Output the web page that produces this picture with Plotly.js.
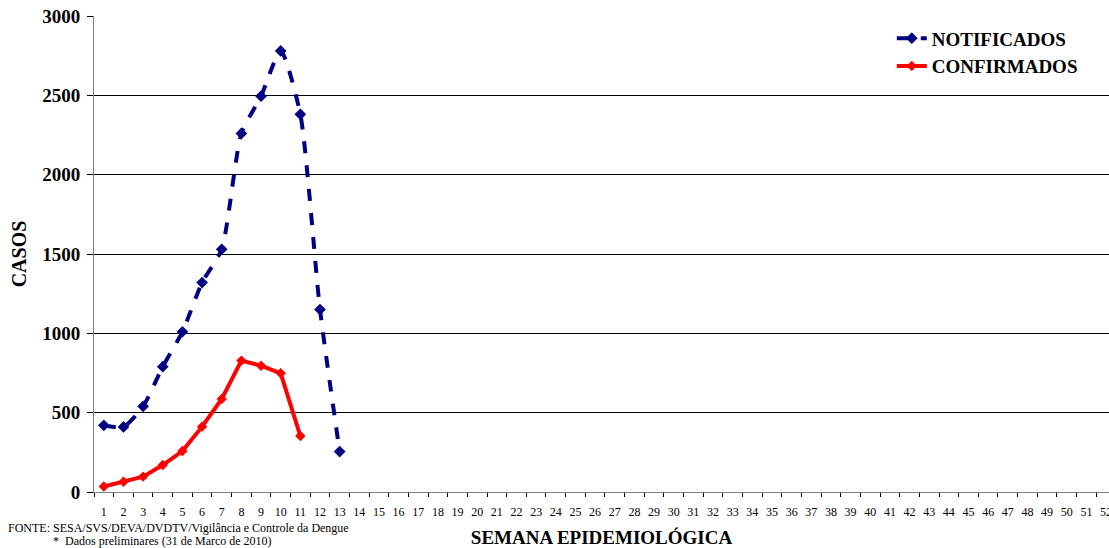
<!DOCTYPE html>
<html>
<head>
<meta charset="utf-8">
<script src="https://cdn.plot.ly/plotly-3.0.1.min.js"></script>
<style>body{margin:0;background:#fff}#chart{width:1109px;height:548px}</style>
</head>
<body>
<div id="chart"></div>
<script>
const weeks = Array.from({length: 52}, (_, i) => String(i + 1));
const notificadosWeeks = ["1","2","3","4","5","6","7","8","9","10","11","12","13"];
const notificados = [420, 410, 540, 790, 1010, 1320, 1530, 2260, 2495, 2780, 2380, 1150, 255];
const confirmadosWeeks = ["1","2","3","4","5","6","7","8","9","10","11"];
const confirmados = [35, 65, 97, 170, 258, 412, 586, 828, 796, 748, 353];
const yTicks = [0, 500, 1000, 1500, 2000, 2500, 3000];

const serif = "Liberation Serif";

const traces = [
  {
    x: notificadosWeeks, y: notificados, name: "NOTIFICADOS", legendgroup: "n",
    type: "scatter", mode: "lines+markers",
    line: {color: "#000080", width: 4, dash: "dash", shape: "spline", smoothing: 0.6},
    marker: {symbol: "diamond", size: 9, color: "#000080"}
  },
  {
    x: confirmadosWeeks, y: confirmados, name: "CONFIRMADOS", legendgroup: "c",
    type: "scatter", mode: "lines+markers",
    line: {color: "#ff0000", width: 4},
    marker: {symbol: "diamond", size: 8, color: "#ff0000"}
  }
];

const layout = {
  width: 1109, height: 548,
  margin: {l: 94, r: 0, t: 16, b: 56},
  paper_bgcolor: "#fff", plot_bgcolor: "#fff",
  font: {family: serif, color: "#000"},
  showlegend: true,
  legend: {
    x: 0.786, y: 0.993, xanchor: "left", yanchor: "top",
    font: {family: serif, size: 19, color: "#000", weight: "bold"},
    bgcolor: "rgba(0,0,0,0)", tracegroupgap: 0
  },
  xaxis: {
    type: "category", categoryorder: "array", categoryarray: weeks,
    tickvals: weeks, ticktext: weeks,
    range: [-0.5, 51.15],
    tickson: "boundaries", ticks: "outside", ticklen: 4, tickcolor: "#000",
    ticklabelstandoff: 9,
    showgrid: false, showline: true, linecolor: "#808080", linewidth: 1,
    tickfont: {family: serif, size: 12, color: "#000"},
    tickangle: 0,
    title: {text: "<b>SEMANA EPIDEMIOLÓGICA</b>", font: {family: serif, size: 19, color: "#000"}, standoff: 12},
    zeroline: false, fixedrange: true
  },
  yaxis: {
    range: [0, 3000], tickvals: yTicks, ticktext: yTicks.map(String),
    ticks: "outside", ticklen: 6, tickcolor: "#000",
    ticklabelstandoff: 3,
    showgrid: true, gridcolor: "#000", gridwidth: 1,
    showline: true, linecolor: "#808080", linewidth: 1,
    tickfont: {family: serif, size: 19, color: "#000", weight: "bold"},
    title: {text: "<b>CASOS</b>", font: {family: serif, size: 20, color: "#000"}, standoff: 10},
    zeroline: false, fixedrange: true
  },
  annotations: [
    {text: "FONTE: SESA/SVS/DEVA/DVDTV/Vigilância e Controle da Dengue", xref: "paper", yref: "paper",
     x: -88/1015, y: -36/476, xanchor: "left", yanchor: "middle", showarrow: false,
     font: {family: serif, size: 12, color: "#000"}},
    {text: "*  Dados preliminares (31 de Marco de 2010)", xref: "paper", yref: "paper",
     x: -43/1015, y: -49/476, xanchor: "left", yanchor: "middle", showarrow: false,
     font: {family: serif, size: 12, color: "#000"}}
  ]
};

Plotly.newPlot("chart", traces, layout, {displayModeBar: false, staticPlot: true});
</script>
</body>
</html>
